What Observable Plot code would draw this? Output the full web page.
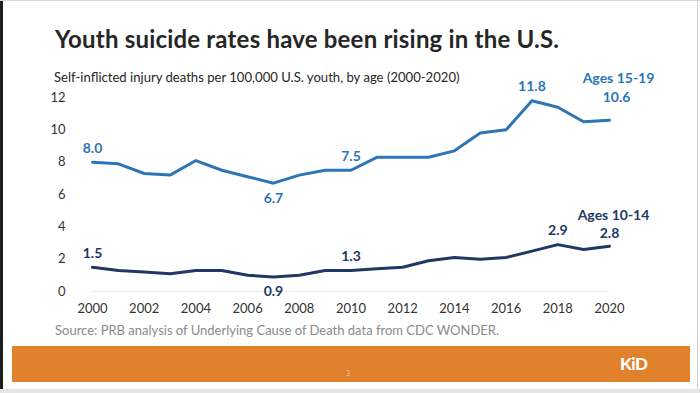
<!DOCTYPE html>
<html><head><meta charset="utf-8">
<script src="https://cdn.jsdelivr.net/npm/d3@7"></script>
<script src="https://cdn.jsdelivr.net/npm/@observablehq/plot@0.6"></script>
<style>
html,body{margin:0;padding:0;background:#fff;}
#frame{position:relative;width:700px;height:393px;overflow:hidden;background:#fff;font-family:Lato,"Open Sans",sans-serif;}
.abs{position:absolute;white-space:nowrap;}
#title{left:55px;top:24px;font-size:24px;letter-spacing:0.2px;font-weight:700;color:#262626;line-height:30px;}
#subtitle{left:54px;top:68px;font-size:13.1px;color:#262626;line-height:18px;}
#source{left:55px;top:321px;font-size:13px;color:#8a8a8a;line-height:18px;}
#band{left:12px;top:346px;width:678px;height:36px;background:#e1812b;}
#page{left:346px;top:369px;font-size:7px;color:#f6c9a0;}
#logo{left:620px;top:353px;font-size:17px;font-weight:900;color:#fff;letter-spacing:-0.5px;}
#chart{left:0;top:85px;}
</style></head>
<body><div id="frame">
<div class="abs" style="left:0;top:0;width:3px;height:389px;background:#1e1e1e"></div>
<div class="abs" style="left:0;top:0;width:700px;height:1px;background:#d8d8d8"></div>
<div class="abs" style="left:697px;top:0;width:1px;height:389px;background:#cfcfcf"></div>
<div class="abs" style="left:0;top:389px;width:700px;height:4px;background:#e6e6e6"></div>
<div id="title" class="abs">Youth suicide rates have been rising in the U.S.</div>
<div id="subtitle" class="abs">Self-inflicted injury deaths per 100,000 U.S. youth, by age (2000-2020)</div>
<div id="chart" class="abs"></div>
<div id="source" class="abs">Source: PRB analysis of Underlying Cause of Death data from CDC WONDER.</div>
<div id="band" class="abs"></div>
<div id="page" class="abs">3</div>
<div id="logo" class="abs">KiD</div>
</div>
<script>
const years = [2000,2001,2002,2003,2004,2005,2006,2007,2008,2009,2010,2011,2012,2013,2014,2015,2016,2017,2018,2019,2020];
const ages15to19 = [8.0,7.9,7.3,7.2,8.1,7.5,7.1,6.7,7.2,7.5,7.5,8.3,8.3,8.3,8.7,9.8,10.0,11.8,11.4,10.5,10.6];
const ages10to14 = [1.5,1.3,1.2,1.1,1.3,1.3,1.0,0.9,1.0,1.3,1.3,1.4,1.5,1.9,2.1,2.0,2.1,2.5,2.9,2.6,2.8];
const xTicks = [2000,2002,2004,2006,2008,2010,2012,2014,2016,2018,2020];
const yTicks = [0,2,4,6,8,10,12];
const labeledYears15 = [2000,2007,2010,2017,2020];
const labeledYears10 = [2000,2007,2010,2018,2020];
const seriesNames = ["Ages 15-19","Ages 10-14"];

const c15 = "#2e75b6", c10 = "#1f3864";
const d15 = years.map((y,i)=>({year:y,value:ages15to19[i]}));
const d10 = years.map((y,i)=>({year:y,value:ages10to14[i]}));
const lastYear = years[years.length-1];
const minYear15 = d15.reduce((a,b)=>b.value<a.value?b:a).year;
const minYear10 = d10.reduce((a,b)=>b.value<a.value?b:a).year;

function labelMarks(data, labeled, minYear, color, name){
  const mid = data.filter(d=>labeled.includes(d.year) && d.year!==lastYear);
  const above = mid.filter(d=>d.year!==minYear);
  const below = mid.filter(d=>d.year===minYear);
  const last = data.filter(d=>d.year===lastYear);
  const first = name===seriesNames[0];
  const common = {x:"year",y:"value",text:d=>d.value.toFixed(1),fill:color,fontWeight:"bold",fontSize:14};
  return [
    Plot.text(above,{...common,dy:-14}),
    Plot.text(below,{...common,dy:15}),
    Plot.text(last,{...common,dy: first?-23:-13, dx: first?7:0}),
    Plot.text(last,{x:"year",y:"value",text:()=>name,fill:color,fontWeight:"bold",fontSize:14,
      dy: first?-42:-31, dx: first?9:4})
  ];
}

const chart = Plot.plot({
  width:700, height:240,
  marginLeft:92, marginRight:91, marginTop:12, marginBottom:34,
  style:{fontFamily:"Lato, 'Open Sans', sans-serif", fontSize:"13px", color:"#333", background:"transparent", overflow:"visible"},
  x:{domain:[2000,2020]},
  y:{domain:[0,12]},
  marks:[
    Plot.ruleY([0],{stroke:"#ececec",strokeWidth:1}),
    Plot.axisX({ticks:xTicks,tickFormat:d=>String(d),tickSize:0,tickPadding:12,fontSize:13,fill:"#333",label:null}),
    Plot.axisY({ticks:yTicks,tickSize:0,tickPadding:27,fontSize:13,fill:"#333",label:null}),
    Plot.lineY(d15,{x:"year",y:"value",stroke:c15,strokeWidth:3}),
    Plot.lineY(d10,{x:"year",y:"value",stroke:c10,strokeWidth:3}),
    ...labelMarks(d15,labeledYears15,minYear15,c15,seriesNames[0]),
    ...labelMarks(d10,labeledYears10,minYear10,c10,seriesNames[1])
  ]
});
document.getElementById("chart").appendChild(chart);
</script>
</body></html>
